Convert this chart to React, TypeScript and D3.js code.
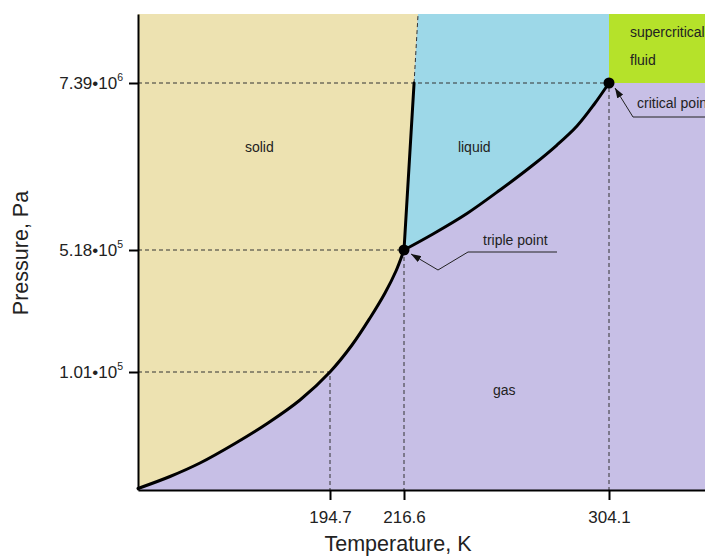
import React, { useEffect, useRef } from 'react';
import * as d3 from 'd3';

// axis breakpoints (the chart is schematic, so both axes are piecewise)
const tDomain = [150, 194.7, 216.6, 304.1, 350];
const pDomain = [1e4, 1.01e5, 5.18e5, 7.39e6, 3e7];

const tempTicks = [194.7, 216.6, 304.1];
const tempTickLabels = ["194.7", "216.6", "304.1"];
const pressTicks = [1.01e5, 5.18e5, 7.39e6];
const pressMantissa = ["1.01", "5.18", "7.39"];
const pressExponent = ["5", "5", "6"];

// phase boundaries, T in K, P in Pa
const sublimationT = [150, 157.45, 164.43, 172.58, 180.27, 187.72, 194.7, 201.21, 206.54, 210.98, 214.23, 216.6];
const sublimationP = [1.03e4, 1.303e4, 1.697e4, 2.488e4, 3.718e4, 5.834e4, 1.01e5, 1.45e5, 2.083e5, 2.912e5, 3.909e5, 5.18e5];
const vaporizationT = [216.6, 228.98, 243.49, 257.58, 271.66, 281.9, 290.44, 297.7, 304.1];
const vaporizationP = [5.18e5, 6.683e5, 9.261e5, 1.346e6, 2.004e6, 2.754e6, 3.727e6, 5.249e6, 7.39e6];
const meltingT = [216.6, 220.9, 222.6];
const meltingP = [5.18e5, 7.39e6, 3e7];

const triplePoint = [216.6, 5.18e5];
const criticalPoint = [304.1, 7.39e6];

const phaseNames = ["solid", "liquid", "gas"];
const phaseT = [174.9, 239.6, 254.6];
const phaseP = [2.46e6, 2.46e6, 6.43e4];

const colors = {
  solid: "#ede2b1",
  liquid: "#9dd8e8",
  gas: "#c7bfe6",
  fluid: "#b5e22a"
};

const font = "'Liberation Sans', Arial, sans-serif";

function PhaseDiagram() {
  const ref = useRef<SVGSVGElement>(null);

  useEffect(() => {
    const svg = d3.select(ref.current);
    svg.selectAll("*").remove();

    const x = d3.scaleLinear().domain(tDomain).range([138, 330, 404, 609, 716]);
    const y = d3.scaleLog().domain(pDomain).range([490, 372, 250, 83, 14]);

    const tMin = tDomain[0], tMax = tDomain[tDomain.length - 1];
    const pMin = pDomain[0], pMax = pDomain[pDomain.length - 1];

    const zip = (ts: number[], ps: number[]) => ts.map((t, i) => [t, ps[i]] as [number, number]);
    const sublimation = zip(sublimationT, sublimationP);
    const vaporization = zip(vaporizationT, vaporizationP);

    const curve = d3.line<[number, number]>()
      .x(d => x(d[0]))
      .y(d => y(d[1]))
      .curve(d3.curveCatmullRom.alpha(0.5));

    const pt = (t: number, p: number) => `${x(t)},${y(p)}`;

    // regions
    svg.append("rect")
      .attr("x", x(tMin)).attr("y", y(pMax))
      .attr("width", x(tMax) - x(tMin)).attr("height", y(pMin) - y(pMax))
      .attr("fill", colors.gas);

    svg.append("path")
      .attr("d", curve(sublimation) +
        `L${pt(meltingT[1], meltingP[1])}L${pt(meltingT[2], meltingP[2])}L${pt(tMin, pMax)}Z`)
      .attr("fill", colors.solid);

    svg.append("path")
      .attr("d", curve(vaporization) +
        `L${pt(criticalPoint[0], pMax)}L${pt(meltingT[2], meltingP[2])}L${pt(meltingT[1], meltingP[1])}Z`)
      .attr("fill", colors.liquid);

    svg.append("rect")
      .attr("x", x(criticalPoint[0])).attr("y", y(pMax))
      .attr("width", x(tMax) - x(criticalPoint[0]))
      .attr("height", y(criticalPoint[1]) - y(pMax))
      .attr("fill", colors.fluid);

    // dashed guides
    const guides = svg.append("g")
      .attr("stroke", "#333")
      .attr("stroke-width", 1)
      .attr("stroke-dasharray", "4,3")
      .attr("fill", "none");
    pressTicks.forEach((p, i) => {
      const t = tempTicks[i];
      guides.append("path").attr("d", `M${pt(tMin, p)}L${pt(t, p)}L${pt(t, pMin)}`);
    });
    guides.append("path")
      .attr("d", `M${pt(meltingT[1], meltingP[1])}L${pt(meltingT[2], meltingP[2])}`);

    // boundaries
    const lines = svg.append("g")
      .attr("stroke", "#000")
      .attr("stroke-width", 3)
      .attr("fill", "none")
      .attr("stroke-linecap", "round");
    lines.append("path").attr("d", curve(sublimation));
    lines.append("path").attr("d", curve(vaporization));
    lines.append("path").attr("d", `M${pt(meltingT[0], meltingP[0])}L${pt(meltingT[1], meltingP[1])}`);

    svg.append("g")
      .selectAll("circle")
      .data([triplePoint, criticalPoint])
      .join("circle")
      .attr("cx", d => x(d[0]))
      .attr("cy", d => y(d[1]))
      .attr("r", 5.5)
      .attr("fill", "#000");

    // axes
    const yAxis = svg.append("g")
      .attr("transform", `translate(${x(tMin)},0)`)
      .call(d3.axisLeft(y).tickValues(pressTicks).tickSize(9).tickSizeOuter(0).tickFormat(() => ""));
    yAxis.selectAll("path, line").attr("stroke", "#000").attr("stroke-width", 2);

    const ylab = svg.append("g")
      .attr("font-family", font)
      .attr("font-size", 17)
      .attr("fill", "#222")
      .attr("text-anchor", "end");
    pressTicks.forEach((p, i) => {
      const t = ylab.append("text").attr("x", x(tMin) - 15).attr("y", y(p) + 6);
      t.append("tspan").text(pressMantissa[i] + "\u202210");
      t.append("tspan").attr("dy", -8).attr("font-size", 10.5).text(pressExponent[i]);
    });

    const xAxis = svg.append("g")
      .attr("transform", `translate(0,${y(pMin)})`)
      .call(d3.axisBottom(x).tickValues(tempTicks).tickSize(10).tickSizeOuter(0).tickPadding(11)
        .tickFormat((d, i) => tempTickLabels[i]));
    xAxis.selectAll("path, line").attr("stroke", "#000").attr("stroke-width", 2);
    xAxis.selectAll("text")
      .attr("font-family", font)
      .attr("font-size", 17)
      .attr("fill", "#222");

    svg.append("text")
      .attr("x", 398).attr("y", 551)
      .attr("text-anchor", "middle")
      .attr("font-family", font).attr("font-size", 21.5).attr("fill", "#222")
      .text("Temperature, K");

    svg.append("text")
      .attr("transform", "translate(28,253) rotate(-90)")
      .attr("text-anchor", "middle")
      .attr("font-family", font).attr("font-size", 21.5).attr("fill", "#222")
      .text("Pressure, Pa");

    // phase labels
    const labels = svg.append("g")
      .attr("font-family", font)
      .attr("font-size", 14)
      .attr("fill", "#222");
    phaseNames.forEach((n, i) => {
      labels.append("text").attr("x", x(phaseT[i])).attr("y", y(phaseP[i])).text(n);
    });
    labels.append("text").attr("x", x(criticalPoint[0]) + 21).attr("y", 37).text("supercritical");
    labels.append("text").attr("x", x(criticalPoint[0]) + 21).attr("y", 65).text("fluid");

    // annotations
    svg.append("defs").append("marker")
      .attr("id", "arrow")
      .attr("markerUnits", "userSpaceOnUse")
      .attr("markerWidth", 10).attr("markerHeight", 7)
      .attr("refX", 10).attr("refY", 3.5)
      .attr("orient", "auto")
      .append("path")
      .attr("d", "M0,0L10,3.5L0,7Z")
      .attr("fill", "#111");

    const ann = svg.append("g")
      .attr("stroke", "#222")
      .attr("stroke-width", 1)
      .attr("fill", "none");

    const tx = x(triplePoint[0]), ty = y(triplePoint[1]);
    ann.append("path").attr("d", `M${tx + 153},${ty + 2}H${tx + 64}L${tx + 34},${ty + 20}`);
    ann.append("path").attr("d", `M${tx + 34},${ty + 20}L${tx + 7},${ty + 4}`).attr("marker-end", "url(#arrow)");
    labels.append("text").attr("x", tx + 79).attr("y", ty - 5).text("triple point");

    const cx = x(criticalPoint[0]), cy = y(criticalPoint[1]);
    ann.append("path").attr("d", `M${cx + 120},${cy + 34}H${cx + 24}`);
    ann.append("path").attr("d", `M${cx + 24},${cy + 34}L${cx + 6},${cy + 5}`).attr("marker-end", "url(#arrow)");
    labels.append("text").attr("x", cx + 28).attr("y", cy + 25).text("critical point");
  }, []);

  return (
    <svg ref={ref} width={705} height={557}
      style={{ position: 'absolute', left: 0, top: 0, background: '#fff' }} />
  );
}

export default function App() {
  return <PhaseDiagram />;
}
